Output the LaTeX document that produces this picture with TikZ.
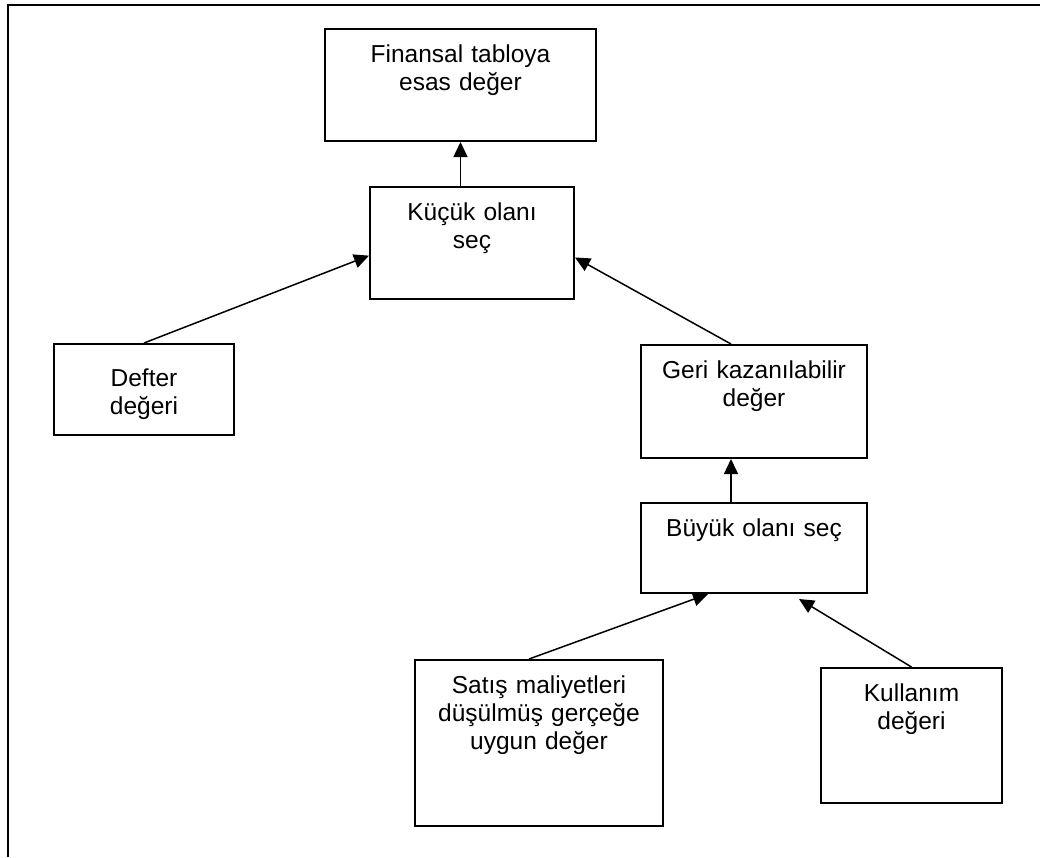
\documentclass[tikz,border=0pt]{standalone}
\usepackage{fontspec}
\setmainfont{Liberation Sans}
\usepackage{tikz}
\usetikzlibrary{arrows.meta}
\newcommand{\kutufont}{\fontsize{24.5}{28}\selectfont}
\tikzstyle{sema}=[x=1pt, y=-1pt, font=\kutufont]
\tikzstyle{kutu}=[rectangle, draw, line width=2pt, anchor=north west, inner sep=0pt, align=center, text height=33pt]
\tikzstyle{ok}=[line width=1.5pt, -{Triangle[length=15pt,width=14pt]}]
\tikzstyle{cerceve}=[line width=2.2pt]
\begin{document}
\begin{tikzpicture}[sema]
	\useasboundingbox (0,0) rectangle (1040,857);
	%The frame
	\draw[cerceve] (8,857) -- (8,5) -- (1040,5);

	%The upper part
	\draw (324,28) node[kutu, text width=271pt, text depth=79pt] (finansal) {Finansal tabloya\\esas değer};
	\draw (369,186) node[kutu, text width=204pt, text depth=79pt] (kucuk) {Küçük olanı\\seç};
	\draw (53,343) node[kutu, text width=180pt, text height=42pt, text depth=49pt] (defter) {Defter\\değeri};
	\draw (640,344) node[kutu, text width=226pt, text depth=80pt] (geri) {Geri kazanılabilir\\değer};

	%The lower part
	\draw (640,502) node[kutu, text width=226pt, text depth=57pt] (buyuk) {Büyük olanı seç};
	\draw (414,659) node[kutu, text width=248pt, text depth=133pt] (satis) {Satış maliyetleri\\düşülmüş gerçeğe\\uygun değer};
	\draw (820,667) node[kutu, text width=181pt, text depth=102pt] (kullanim) {Kullanım\\değeri};

	%The arrows
	\draw[ok] (finansal.south |- kucuk.north) -- (finansal.south);
	\draw[ok] (defter.north) -- (kucuk.187);
	\draw[ok] ([xshift=-23pt]geri.north) -- (kucuk.-8);
	\draw[ok] ([xshift=-23pt]buyuk.north) -- ([xshift=-23pt]geri.south);
	\draw[ok] ([xshift=-10pt]satis.north) -- ([xshift=-46pt]buyuk.south);
	\draw[ok] (kullanim.north) -- ([xshift=45pt, yshift=-5pt]buyuk.south);
\end{tikzpicture}
\end{document}
